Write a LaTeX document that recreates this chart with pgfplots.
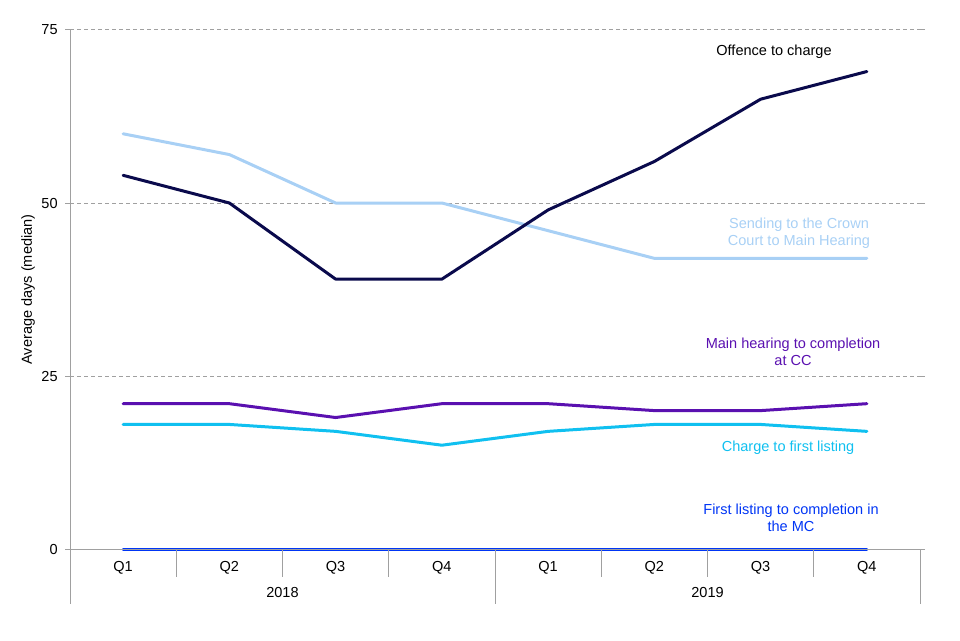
\documentclass[border=0pt]{standalone}
\usepackage{pgfplots}
\pgfplotsset{compat=1.18}
\usepackage{fontspec}
\setmainfont{Liberation Sans}

\definecolor{offc}{HTML}{0A0A4C}
\definecolor{send}{HTML}{A8D0F5}
\definecolor{mainh}{HTML}{5A10B0}
\definecolor{chg}{HTML}{10C0F0}
\definecolor{firstl}{HTML}{0035F5}
\definecolor{axgray}{HTML}{A0A0A0}

\begin{document}
\begin{tikzpicture}
\path[use as bounding box] (0,0) rectangle (720pt,480pt);
\begin{axis}[
    at={(52.5pt,68.25pt)}, anchor=south west,
    scale only axis,
    width=637.5pt, height=389.25pt,
    xmin=-0.5, xmax=7.5,
    ymin=0, ymax=75,
    font=\fontsize{10.9}{12.75}\selectfont,
    /pgf/number format/assume math mode=true,
    axis line style={draw=none},
    xtick={0,...,7},
    xticklabels={Q1,Q2,Q3,Q4,Q1,Q2,Q3,Q4},
    major x tick style={draw=none},
    xticklabel style={anchor=center, yshift=-10.5pt},
    ytick={0,25,50,75},
    tick align=outside,
    major tick length=3.75pt,
    major y tick style={axgray, line width=0.75pt},
    yticklabel style={xshift=-2pt},
    ymajorgrids,
    grid style={axgray, line width=0.75pt, dash pattern=on 3pt off 2.25pt},
    ylabel={Average days (median)},
    ylabel style={at={(rel axis cs:0,0.5)}, anchor=center, yshift=31.5pt},
    clip=false,
    every axis plot/.append style={line width=2.25pt, line join=round, line cap=round, sharp plot},
]
\addplot[firstl] coordinates {(0,0) (1,0) (2,0) (3,0) (4,0) (5,0) (6,0) (7,0)};
\addplot[chg] coordinates {(0,18) (1,18) (2,17) (3,15) (4,17) (5,18) (6,18) (7,17)};
\addplot[mainh] coordinates {(0,21) (1,21) (2,19) (3,21) (4,21) (5,20) (6,20) (7,21)};
\addplot[send] coordinates {(0,60) (1,57) (2,50) (3,50) (4,46) (5,42) (6,42) (7,42)};
\addplot[offc] coordinates {(0,54) (1,50) (2,39) (3,39) (4,49) (5,56) (6,65) (7,69)};

% axis frame and category separators
\draw[axgray, line width=0.75pt] (rel axis cs:0,1) -- ([yshift=-41.25pt]rel axis cs:0,0);
\draw[axgray, line width=0.75pt] (rel axis cs:0,0) -- (rel axis cs:1,0);
\pgfplotsinvokeforeach{0.5,1.5,2.5,4.5,5.5,6.5}{
  \draw[axgray, line width=0.75pt] (axis cs:#1,0) -- ([yshift=-21pt]axis cs:#1,0);
}
\pgfplotsinvokeforeach{3.5,7.5}{
  \draw[axgray, line width=0.75pt] (axis cs:#1,0) -- ([yshift=-41.25pt]axis cs:#1,0);
}
\node at ([yshift=-32.25pt]axis cs:1.5,0) {2018};
\node at ([yshift=-32.25pt]axis cs:5.5,0) {2019};

% series labels
\node[black] at (axis cs:6.126,71.8) {Offence to charge};
\node[send, align=center] at (axis cs:6.361,45.7) {Sending to the Crown\\Court to Main Hearing};
\node[mainh, align=center] at (axis cs:6.305,28.5) {Main hearing to completion\\at CC};
\node[chg] at (axis cs:6.258,14.6) {Charge to first listing};
\node[firstl, align=center] at (axis cs:6.286,4.5) {First listing to completion in\\the MC};
\end{axis}
\end{tikzpicture}
\end{document}
